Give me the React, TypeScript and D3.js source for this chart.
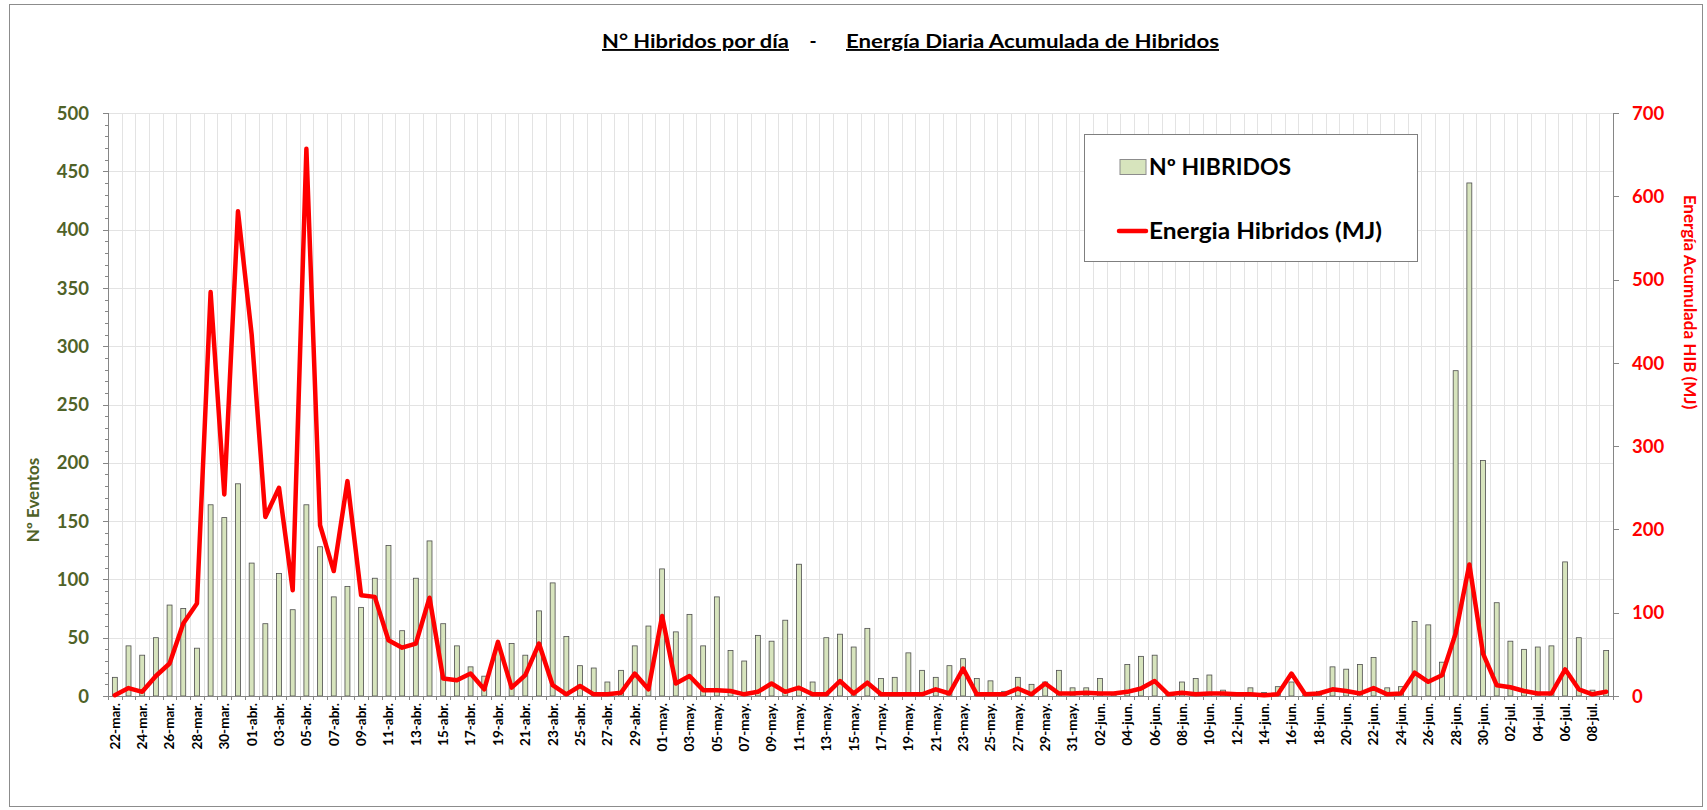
import * as d3 from "d3";
import React from "react";

// Nº de híbridos por día, 22-mar .. 09-jul
const hibridos: number[] = [
  16, 43, 35, 50, 78, 75, 41, 164, 153, 182,
  114, 62, 105, 74, 164, 128, 85, 94, 76, 101,
  129, 56, 101, 133, 62, 43, 25, 17, 40, 45,
  35, 73, 97, 51, 26, 24, 12, 22, 43, 60,
  109, 55, 70, 43, 85, 39, 30, 52, 47, 65,
  113, 12, 50, 53, 42, 58, 15, 16, 37, 22,
  16, 26, 32, 15, 13, 4, 16, 10, 12, 22,
  7, 7, 15, 2, 27, 34, 35, 1, 12, 15,
  18, 5, 1, 7, 3, 8, 12, 1, 4, 25,
  23, 27, 33, 7, 8, 64, 61, 29, 279, 440,
  202, 80, 47, 40, 42, 43, 115, 50, 5, 39,
];

// Energía acumulada diaria (MJ)
const energia: number[] = [
  1, 9.5, 5, 24, 39, 87, 111, 485, 242, 582,
  434, 215, 250, 127, 657, 205, 150, 258, 121, 119,
  67, 58, 63, 118, 21, 19, 27, 8, 65, 10,
  25, 63, 13, 2, 12, 2, 2, 4, 27, 8,
  96, 15, 24, 7, 7, 6, 2, 5, 15, 5,
  10, 2, 2, 18, 3, 16, 2, 2, 2, 2,
  8, 3, 33, 2, 2, 2, 9, 2, 15, 3,
  3, 4, 3, 3, 5, 9, 18, 2, 4, 2,
  3, 3, 2, 2, 1, 2, 27, 2, 3, 8,
  6, 3, 9.5, 2, 3, 28, 17, 25, 75, 158,
  51, 13, 10.5, 6, 3, 3, 32, 8, 2, 5,
];

const mesesCortos = ["ene", "feb", "mar", "abr", "may", "jun", "jul", "ago", "sep", "oct", "nov", "dic"];
const dias: Date[] = d3.timeDays(new Date(2023, 2, 22), new Date(2023, 6, 10));
const etiquetas = dias.map(
  (d) => `${String(d.getDate()).padStart(2, "0")}-${mesesCortos[d.getMonth()]}.`
);

const ticksIzq = d3.range(0, 501, 50);
const ticksIzqMenor = d3.range(0, 501, 10);
const ticksDer = d3.range(0, 701, 100);

const W = 1707;
const H = 810;
const L = 108;
const R = 1613;
const T = 113;
const B = 696;

const fuente = "Lato, 'Open Sans', sans-serif";
const verdeOscuro = "#4f6228";
const rojo = "#ff0000";

export default function App() {
  const x = d3.scaleBand<number>().domain(d3.range(hibridos.length)).range([L, R]).padding(0);
  const paso = x.step();
  const anchoBarra = paso * 0.36;
  const yL = d3.scaleLinear().domain([0, 500]).range([B, T]);
  const yR = d3.scaleLinear().domain([0, 700]).range([B, T]);

  const linea = d3
    .line<number>()
    .x((_, i) => (x(i) as number) + paso / 2)
    .y((v) => yR(v));

  return (
    <svg
      width={W}
      height={H}
      style={{ position: "absolute", left: 0, top: 0, background: "#fff" }}
      fontFamily={fuente}
    >
      <rect x={9.5} y={4.5} width={1693} height={802} fill="#fff" stroke="#8c8c8c" />

      {/* title */}
      <g fontWeight="bold" fontSize={19} fill="#000">
        <text x={602} y={48} textDecoration="underline" textLength={187} lengthAdjust="spacingAndGlyphs">
          N° Hibridos por día
        </text>
        <text x={813} y={48} textAnchor="middle">-</text>
        <text x={846} y={48} textDecoration="underline" textLength={373} lengthAdjust="spacingAndGlyphs">
          Energía Diaria Acumulada de Hibridos
        </text>
      </g>

      {/* grid */}
      <g stroke="#e3e3e3" strokeWidth={1}>
        {ticksIzq.map((t) => (
          <line key={"h" + t} x1={L} x2={R} y1={Math.round(yL(t)) + 0.5} y2={Math.round(yL(t)) + 0.5} />
        ))}
        {d3.range(1, hibridos.length).map((i) => (
          <line key={"v" + i} x1={Math.round(x(i) as number) + 0.5} x2={Math.round(x(i) as number) + 0.5} y1={T} y2={B} />
        ))}
      </g>

      {/* bars */}
      <g fill="#d7e4bd" stroke="#4d4d4d" strokeWidth={0.8}>
        {hibridos.map((v, i) => (
          <rect
            key={i}
            x={(x(i) as number) + (paso - anchoBarra) / 2}
            y={yL(v)}
            width={anchoBarra}
            height={B - yL(v)}
          />
        ))}
      </g>

      {/* axes */}
      <g stroke="#868686" strokeWidth={1}>
        <line x1={L + 0.5} x2={L + 0.5} y1={T} y2={B} />
        <line x1={R + 0.5} x2={R + 0.5} y1={T} y2={B} />
        <line x1={L} x2={R} y1={B + 0.5} y2={B + 0.5} />
        {ticksIzqMenor.map((t) => (
          <line key={"mi" + t} x1={t % 50 === 0 ? L - 5 : L - 3} x2={L} y1={Math.round(yL(t)) + 0.5} y2={Math.round(yL(t)) + 0.5} />
        ))}
        {ticksDer.map((t) => (
          <line key={"td" + t} x1={R} x2={R + 6} y1={Math.round(yR(t)) + 0.5} y2={Math.round(yR(t)) + 0.5} />
        ))}
        {d3.range(0, hibridos.length + 1).map((i) => (
          <line key={"tx" + i} x1={Math.round(L + i * paso) + 0.5} x2={Math.round(L + i * paso) + 0.5} y1={B} y2={B + 4} />
        ))}
      </g>

      {/* energy line */}
      <path
        d={linea(energia) as string}
        fill="none"
        stroke={rojo}
        strokeWidth={4.5}
        strokeLinejoin="round"
        strokeLinecap="round"
      />

      {/* left tick labels */}
      <g fontSize={18.5} fontWeight="bold" fill={verdeOscuro} textAnchor="end">
        {ticksIzq.map((t) => (
          <text key={t} x={89} y={yL(t)} dy="0.36em">{t}</text>
        ))}
      </g>
      <text
        transform={`translate(33,500) rotate(-90)`}
        textAnchor="middle"
        dy="0.35em"
        fontSize={17}
        fontWeight="bold"
        fill={verdeOscuro}
      >
        Nº Eventos
      </text>

      {/* right tick labels */}
      <g fontSize={18.5} fontWeight="bold" fill={rojo}>
        {ticksDer.map((t) => (
          <text key={t} x={1632} y={yR(t)} dy="0.36em">{t}</text>
        ))}
      </g>
      <text
        transform={`translate(1690,302) rotate(90)`}
        textAnchor="middle"
        dy="0.35em"
        fontSize={17}
        fontWeight="bold"
        fill={rojo}
      >
        Energía Acumulada HIB (MJ)
      </text>

      {/* x tick labels */}
      <g fontSize={13.5} fontWeight="bold" fill="#000" textAnchor="end">
        {etiquetas.map((e, i) =>
          i % 2 === 0 ? (
            <text
              key={e}
              transform={`translate(${(x(i) as number) + paso / 2},703) rotate(-90)`}
              dy="0.36em"
            >
              {e}
            </text>
          ) : null
        )}
      </g>

      {/* legend */}
      <g>
        <rect x={1084.5} y={134.5} width={333} height={127} fill="#fff" stroke="#7f7f7f" />
        <rect x={1120} y={159.5} width={26} height={15} fill="#d7e4bd" stroke="#8c8c8c" />
        <text x={1149} y={175} fontSize={22} fontWeight="bold" fill="#000" textLength={142} lengthAdjust="spacingAndGlyphs">
          Nº HIBRIDOS
        </text>
        <line x1={1119} x2={1146} y1={231} y2={231} stroke={rojo} strokeWidth={4.5} strokeLinecap="round" />
        <text x={1149} y={239} fontSize={22} fontWeight="bold" fill="#000" textLength={233} lengthAdjust="spacingAndGlyphs">
          Energia Hibridos (MJ)
        </text>
      </g>
    </svg>
  );
}
